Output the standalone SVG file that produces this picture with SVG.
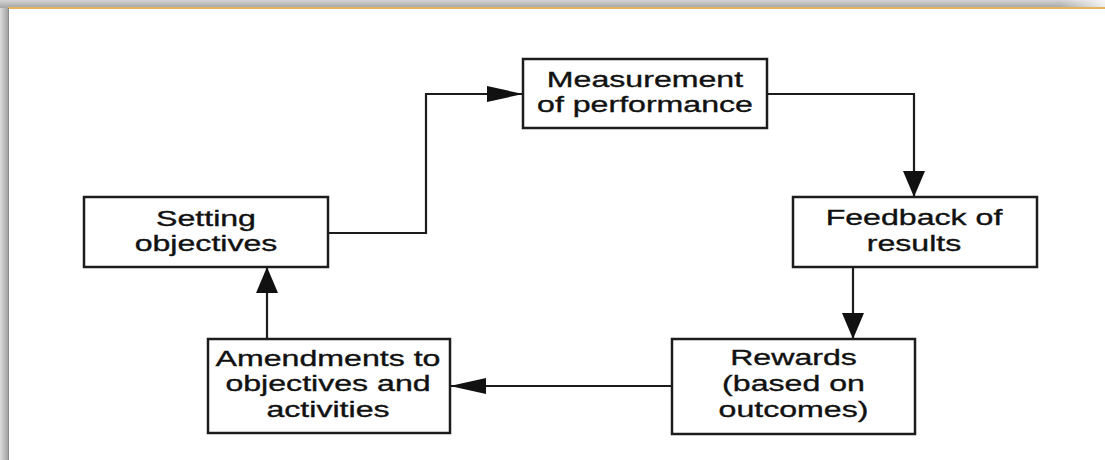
<svg xmlns="http://www.w3.org/2000/svg" width="1105" height="460" viewBox="0 0 1105 460">
  <defs>
    <linearGradient id="gLeft" x1="0" y1="0" x2="1" y2="0">
      <stop offset="0" stop-color="#dcdcdc"/>
      <stop offset="1" stop-color="#9a9a9a"/>
    </linearGradient>
    <linearGradient id="gTop" x1="0" y1="0" x2="0" y2="1">
      <stop offset="0" stop-color="#d4d4d4"/>
      <stop offset="1" stop-color="#a4a4a4"/>
    </linearGradient>
    <linearGradient id="gTopFade" x1="0" y1="0" x2="1" y2="0">
      <stop offset="0" stop-color="#ffffff" stop-opacity="0"/>
      <stop offset="1" stop-color="#ffffff" stop-opacity="0.8"/>
    </linearGradient>
    <marker id="arrowLong" viewBox="0 0 36 16" refX="36" refY="8" markerWidth="36" markerHeight="16" markerUnits="userSpaceOnUse" orient="auto">
      <path d="M0,0 L36,8 L0,16 Z" fill="#111"/>
    </marker>
    <marker id="arrowShort" viewBox="0 0 26 22" refX="26" refY="11" markerWidth="26" markerHeight="22" markerUnits="userSpaceOnUse" orient="auto">
      <path d="M0,0 L26,11 L0,22 Z" fill="#111"/>
    </marker>
  </defs>
  <style>
    .box { fill: #ffffff; stroke: #1c1c1c; stroke-width: 2.5; }
    .t { font-family: "Liberation Sans", Arial, sans-serif; font-size: 22px; text-anchor: middle; fill: #111; stroke: #111; stroke-width: 0.35; }
    .conn { fill: none; stroke: #1c1c1c; stroke-width: 2.2; }
  </style>

  <!-- frame -->
  <rect x="0" y="0" width="1105" height="460" fill="#ffffff"/>
  <rect x="0" y="0" width="9" height="460" fill="url(#gLeft)"/>
  <rect x="0" y="0" width="1105" height="8" fill="url(#gTop)"/>
  <rect x="1060" y="0" width="45" height="8" fill="url(#gTopFade)"/>
  <rect x="8" y="7" width="1097" height="2" fill="#e4b45e"/>
  <rect x="8" y="8" width="1" height="452" fill="#8a8a8a"/>

  <!-- connectors -->
  <g id="connectors">
    <path class="conn" d="M328,233 H426 V94 H523" marker-end="url(#arrowLong)"/>
    <path class="conn" d="M767,94 H914 V197" marker-end="url(#arrowShort)"/>
    <path class="conn" d="M853,267 V339" marker-end="url(#arrowShort)"/>
    <path class="conn" d="M672,386 H450" marker-end="url(#arrowLong)"/>
    <path class="conn" d="M267,339 V267" marker-end="url(#arrowShort)"/>
  </g>

  <g id="measurement">
    <rect class="box" x="523" y="59" width="244" height="69"/>
    <text class="t" transform="translate(645 0) scale(1.46 1)"><tspan x="0" y="87">Measurement</tspan><tspan x="0" y="112">of performance</tspan></text>
  </g>

  <g id="setting">
    <rect class="box" x="84" y="197" width="244" height="70"/>
    <text class="t" transform="translate(206 0) scale(1.46 1)"><tspan x="0" y="226">Setting</tspan><tspan x="0" y="251">objectives</tspan></text>
  </g>

  <g id="feedback">
    <rect class="box" x="793" y="197" width="244" height="70"/>
    <text class="t" transform="translate(914 0) scale(1.46 1)"><tspan x="0" y="225">Feedback of</tspan><tspan x="0" y="251">results</tspan></text>
  </g>

  <g id="rewards">
    <rect class="box" x="672" y="339" width="243" height="95"/>
    <text class="t" transform="translate(793.5 0) scale(1.46 1)"><tspan x="0" y="365">Rewards</tspan><tspan x="0" y="391">(based on</tspan><tspan x="0" y="417">outcomes)</tspan></text>
  </g>

  <g id="amendments">
    <rect class="box" x="208" y="339" width="242" height="94"/>
    <text class="t" transform="translate(328 0) scale(1.46 1)"><tspan x="0" y="366">Amendments to</tspan><tspan x="0" y="391">objectives and</tspan><tspan x="0" y="417">activities</tspan></text>
  </g>
</svg>
